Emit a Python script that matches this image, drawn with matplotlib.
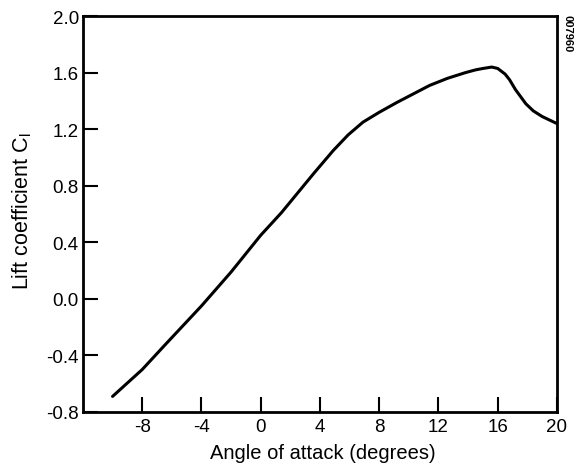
import matplotlib
matplotlib.use('Agg')
import matplotlib.pyplot as plt

# values
alpha = [-10, -8, -6.5, -4, -2, 0, 1.4, 2.5, 3.6, 4.9, 5.9, 6.9, 8.0, 9.2,
         10.3, 11.4, 12.6, 13.8, 14.5, 15.0, 15.6, 16.0, 16.5, 16.8, 17.2,
         17.9, 18.4, 19.0, 20.0]
cl = [-0.69, -0.50, -0.33, -0.05, 0.19, 0.45, 0.61, 0.75, 0.89, 1.05, 1.16,
      1.25, 1.32, 1.39, 1.45, 1.51, 1.56, 1.60, 1.62, 1.63, 1.64, 1.63, 1.59,
      1.55, 1.48, 1.38, 1.33, 1.29, 1.24]

xticks = [-8, -4, 0, 4, 8, 12, 16, 20]
yticks = [-0.8, -0.4, 0.0, 0.4, 0.8, 1.2, 1.6, 2.0]

plt.rcParams['font.family'] = ['Liberation Sans', 'DejaVu Sans']

fig = plt.figure(figsize=(5.76, 4.64), dpi=100)
ax = fig.add_axes([0.144, 0.110, 0.823, 0.853])

ax.plot(alpha, cl, color='black', lw=2.2, solid_capstyle='round',
        solid_joinstyle='round')

ax.set_xlim(-12, 20)
ax.set_ylim(-0.8, 2.0)
ax.set_xticks(xticks)
ax.set_xticklabels([str(t) for t in xticks])
ax.set_yticks(yticks)
ax.set_yticklabels(['%.1f' % t for t in yticks])

ax.tick_params(direction='in', length=11, width=1.5, labelsize=13.5, colors='black')
ax.tick_params(axis='y', pad=3)
ax.tick_params(axis='x', pad=4)
for s in ax.spines.values():
    s.set_linewidth(2)

ax.set_xlabel('Angle of attack (degrees)', fontsize=14.5)
ax.set_ylabel('Lift coefficient C$_\\mathregular{l}$', fontsize=15.5)
ax.xaxis.set_label_coords(0.506, -0.078)
ax.yaxis.set_label_coords(-0.103, 0.51)

# figure id number in the top right corner
fig.text(0.986, 0.968, '007960', rotation=-90, fontsize=8, ha='center', va='top',
         fontweight='bold')

fig.savefig('out.png', dpi=100)
